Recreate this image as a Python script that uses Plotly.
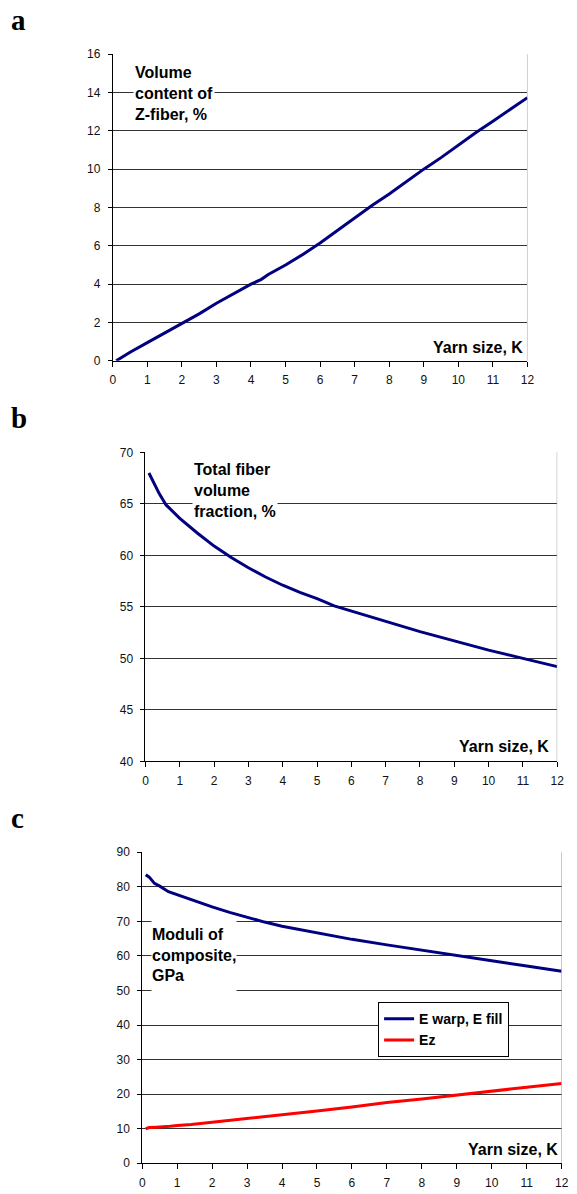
import plotly.graph_objects as go

W, H = 577, 1194

# ---------------- data ----------------
# Panel a: volume content of Z-fiber (%)
a_x = [0.1, 0.5, 1, 1.5, 2, 2.5, 3, 3.5, 4, 4.3, 4.5, 5, 5.5, 6, 6.5, 7, 7.5, 8, 8.5, 9, 9.5, 10, 10.5, 11, 11.5, 12]
a_y = [0.0, 0.45, 0.95, 1.45, 1.95, 2.45, 3.0, 3.5, 4.0, 4.25, 4.5, 5.0, 5.55, 6.15, 6.8, 7.45, 8.1, 8.7, 9.35, 10.0, 10.6, 11.25, 11.9, 12.5, 13.1, 13.73]

# Panel b: total fiber volume fraction (%)
b_x = [0.1, 0.2, 0.3, 0.4, 0.6, 0.8, 1, 1.5, 2, 2.5, 3, 3.5, 4, 4.5, 5, 5.5, 6, 7, 8, 9, 10, 11, 12]
b_y = [68.0, 67.3, 66.6, 66.0, 64.9, 64.2, 63.6, 62.2, 60.9, 59.8, 58.8, 57.9, 57.1, 56.4, 55.8, 55.1, 54.6, 53.6, 52.6, 51.7, 50.8, 50.0, 49.2]

# Panel c: moduli of composite (GPa)
c_x_warp = [0.1, 0.2, 0.35, 0.5, 0.75, 1, 1.5, 2, 2.5, 3, 3.5, 4, 4.5, 5, 6, 7, 8, 9, 10, 11, 12]
c_warp = [83.5, 82.8, 81.0, 80.2, 78.6, 77.7, 75.8, 74.2, 72.6, 71.1, 69.8, 68.6, 67.6, 66.6, 64.8, 63.2, 61.6, 60.1, 58.6, 57.1, 55.6]
c_x_z = [0.1, 0.2, 0.4, 0.6, 0.8, 1, 1.4, 2, 3, 4, 4.5, 5, 6, 7, 8, 9, 10, 11, 12]
c_z = [10.0, 10.35, 10.45, 10.5, 10.7, 10.9, 11.2, 11.9, 12.9, 13.9, 14.6, 15.1, 16.3, 17.6, 18.6, 19.8, 20.9, 22.0, 23.1]

x_ticks = list(range(0, 13))
series_names = ["E warp, E fill", "Ez"]
panel_letters = ["a", "b", "c"]
panel_notes = ["Volume<br>content of<br>Z-fiber, %",
               "Total fiber<br>volume<br>fraction, %",
               "Moduli of<br>composite,<br>GPa"]
x_title = "Yarn size, K"

NAVY = "#000080"
RED = "#FF0000"
FONT = "Liberation Sans, Arial, sans-serif"


def px(x):
    return x / W


def py(y):
    return 1 - y / H


fig = go.Figure()
fig.add_trace(go.Scatter(x=a_x, y=a_y, mode="lines", line=dict(color=NAVY, width=3),
                         xaxis="x", yaxis="y", showlegend=False))
fig.add_trace(go.Scatter(x=b_x, y=b_y, mode="lines", line=dict(color=NAVY, width=3),
                         xaxis="x2", yaxis="y2", showlegend=False))
fig.add_trace(go.Scatter(x=c_x_warp, y=c_warp, mode="lines", line=dict(color=NAVY, width=3),
                         xaxis="x3", yaxis="y3", name="<b>%s</b>" % series_names[0]))
fig.add_trace(go.Scatter(x=c_x_z, y=c_z, mode="lines", line=dict(color=RED, width=3),
                         xaxis="x3", yaxis="y3", name="<b>%s</b>" % series_names[1]))

# panel pixel boxes: (left, right, top, bottom)
boxes = [(111.7, 533.7, 47.7, 358.0),
         (145.0, 564.0, 450.7, 763.3),
         (141.7, 568.5, 855.3, 1170.0)]
yranges = [(0, 16, 2), (40, 70, 5), (0, 90, 10)]

tickfont = dict(family=FONT, size=12, color="#111")
layout = dict(width=W, height=H, margin=dict(l=0, r=0, t=0, b=0),
              paper_bgcolor="white", plot_bgcolor="white", font=dict(family=FONT))
for i, ((l, r, t, b), (y0, y1, dy)) in enumerate(zip(boxes, yranges)):
    sfx = "" if i == 0 else str(i + 1)
    layout["xaxis" + sfx] = dict(domain=[px(l), px(r)], anchor="y" + sfx, range=[0, 12],
                                 tickvals=x_ticks, ticks="outside", ticklen=5, tickcolor="black",
                                 showline=True, linecolor="black", linewidth=1, showgrid=False,
                                 zeroline=False, tickfont=tickfont, ticklabelstandoff=3)
    layout["yaxis" + sfx] = dict(domain=[py(b), py(t)], anchor="x" + sfx, range=[y0, y1],
                                 dtick=dy, tick0=y0, ticks="outside", ticklen=4, tickcolor="black",
                                 showline=True, linecolor="black", linewidth=1, showgrid=True,
                                 gridcolor="#333333", gridwidth=1, zeroline=False,
                                 tickfont=tickfont, ticklabelstandoff=5)

shapes = []
for i in range(3):
    sfx = "" if i == 0 else str(i + 1)
    shapes.append(dict(type="line", xref="x" + sfx, yref="y" + sfx + " domain",
                       x0=12, x1=12, y0=0, y1=1, line=dict(color="#999", width=1)))

annotations = []
# panel letters
letter_y = [13, 415.7, 821]
for letter, ly in zip(panel_letters, letter_y):
    annotations.append(dict(text="<b>%s</b>" % letter, xref="paper", yref="paper",
                            x=px(6), y=py(ly), xanchor="left", yanchor="middle", showarrow=False,
                            font=dict(family="Liberation Serif, Times New Roman, serif", size=29,
                                      color="black")))
# x-axis titles inside plot
xt = [(531.7, 344.3), (558.0, 748.0), (567.0, 1156.0)]
for (xr, yc) in xt:
    annotations.append(dict(text="<b>%s</b>" % x_title, xref="paper", yref="paper",
                            x=px(xr), y=py(yc), xanchor="right", yanchor="middle", showarrow=False,
                            font=dict(family=FONT, size=16, color="black")))
# panel notes with white background
notes_pos = [(132, 87.3, None, None), (192, 489.5, None, None), (151, 959, 84, 76)]
for note, (nx, ny, nw, nh) in zip(panel_notes, notes_pos):
    ann = dict(text="<b>%s</b>" % note, xref="paper", yref="paper", x=px(nx), y=py(ny),
               xanchor="left", yanchor="middle", showarrow=False, align="left",
               bgcolor="white", borderpad=1,
               font=dict(family=FONT, size=16, color="black"))
    if nw:
        ann.update(width=nw, height=nh, valign="middle", borderpad=0)
    annotations.append(ann)

layout["shapes"] = shapes
layout["annotations"] = annotations
layout["legend"] = dict(x=px(381.7), y=py(1007), xanchor="left", yanchor="top",
                        bgcolor="white", bordercolor="black", borderwidth=1,
                        font=dict(family=FONT, size=14, color="black"),
                        tracegroupgap=0, itemwidth=30)
layout["showlegend"] = True

fig.update_layout(**layout)
fig.write_html("out.html", config={"displayModeBar": False},
               post_script="document.body.style.margin='0';document.body.style.overflow='hidden';")
